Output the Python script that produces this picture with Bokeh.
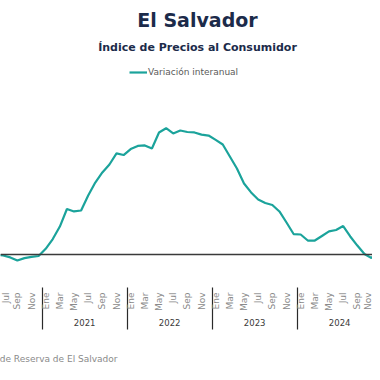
import math
from bokeh.plotting import figure
from bokeh.models import FixedTicker, LinearAxis, Span, Label, Range1d, Title
from bokeh.embed import file_html
from bokeh.resources import INLINE

# ---- data -------------------------------------------------------------
month_names = ["Ene", "Feb", "Mar", "Abr", "May", "Jun",
               "Jul", "Ago", "Sep", "Oct", "Nov", "Dic"]
year_labels = ["2020", "2021", "2022", "2023", "2024", "2025"]
base_year = 2020
start_year, start_month = 2020, 6   # first value = Jun 2020

# Variación interanual del IPC (%), mensual desde Jun 2020
variacion = [
    -0.03, -0.06, -0.18, -0.37, -0.22, -0.15, -0.09,                     # 2020 Jun-Dic
    0.35, 0.95, 1.72, 2.80, 2.65, 2.71, 3.63, 4.43, 5.05, 5.54, 6.22, 6.12,  # 2021
    6.49, 6.68, 6.71, 6.52, 7.51, 7.77, 7.45, 7.63, 7.54, 7.51, 7.38, 7.32,  # 2022
    7.05, 6.77, 6.03, 5.29, 4.37, 3.82, 3.38, 3.17, 3.05, 2.65, 1.97, 1.26,  # 2023
    1.23, 0.86, 0.86, 1.14, 1.42, 1.51, 1.75, 1.11, 0.55, 0.03, -0.22, 0.28,  # 2024
    0.50,                                                                 # 2025 Ene
]

title_text = "El Salvador"
subtitle_text = "Índice de Precios al Consumidor"
series_name = "Variación interanual"
source_text = "Fuente: Banco Central de Reserva de El Salvador"

# ---- derived positions (month index from Jan of base year) ------------
first_idx = (start_year - base_year) * 12 + (start_month - 1)
x_idx = [first_idx + k for k in range(len(variacion))]
n_months = len(year_labels) * 12

FONT = "DejaVu Sans"
TEAL = "#1ba39b"
NAVY = "#1c2b4a"

W, H = 372, 364
FRAME_H = 287
p = figure(width=W, height=H, output_backend="svg", toolbar_location=None,
           x_range=Range1d(5.62, 58.14), y_range=Range1d(-2.03, 15.63),
           y_axis_location=None, x_axis_location=None,
           min_border_left=0, min_border_right=0,
           min_border_top=0, min_border_bottom=H - FRAME_H)
p.outline_line_color = None
p.xgrid.visible = False
p.ygrid.visible = False
p.background_fill_color = "white"
p.border_fill_color = "white"

# zero line
p.add_layout(Span(location=0, dimension="width", line_color="#3a3a3a", line_width=1.4))

p.line(x_idx, variacion, line_color=TEAL, line_width=2.2, legend_label=series_name)

# month axis (year separators as long minor ticks)
month_ticks = list(range(0, n_months, 2))
year_bounds = [12 * k - 0.5 for k in range(1, len(year_labels))]
month_axis = LinearAxis(
    ticker=FixedTicker(ticks=month_ticks, minor_ticks=year_bounds),
    major_label_overrides={t: month_names[t % 12] for t in month_ticks},
    major_label_orientation=math.pi / 2,
    major_label_standoff=-37,
    major_label_text_font=FONT, major_label_text_font_size="9px",
    major_label_text_color="#8a8a8a",
    axis_line_color=None, major_tick_out=0, major_tick_in=0,
    minor_tick_out=42, minor_tick_in=0, minor_tick_line_color="#2a2a2a",
    minor_tick_line_width=1.2,
)
p.add_layout(month_axis, "below")

# year axis (blank axis label only reserves room above the source line)
year_ticks = [12 * k + 5.5 for k in range(len(year_labels))]
year_axis = LinearAxis(
    ticker=FixedTicker(ticks=year_ticks, minor_ticks=[]),
    major_label_overrides={t: year_labels[k] for k, t in enumerate(year_ticks)},
    major_label_standoff=4,
    major_label_text_font=FONT, major_label_text_font_size="8.5px",
    major_label_text_color="#3a3a3a",
    axis_line_color=None, major_tick_out=0, major_tick_in=0,
    minor_tick_out=0, minor_tick_in=0,
    axis_label=" ", axis_label_standoff=10, axis_label_text_font_size="9px",
)
p.add_layout(year_axis, "below")

# source line
p.add_layout(Title(text=source_text, align="right", offset=W - 117,
                   text_font=FONT, text_font_style="normal", text_font_size="9px",
                   text_color="#8a8a8a", standoff=0), "below")

# titles (inside the frame, which spans the whole upper area)
p.add_layout(Label(x=197, y=FRAME_H - 19.7, x_units="screen", y_units="screen",
                   text=title_text, text_align="center", text_baseline="alphabetic",
                   text_font=FONT, text_font_style="bold", text_font_size="19px",
                   text_color=NAVY))
p.add_layout(Label(x=197, y=FRAME_H - 46.5, x_units="screen", y_units="screen",
                   text=subtitle_text, text_align="center", text_baseline="alphabetic",
                   text_font=FONT, text_font_style="bold", text_font_size="11px",
                   text_color=NAVY))

leg = p.legend[0]
leg.location = (129, FRAME_H - 78)
leg.orientation = "horizontal"
leg.background_fill_alpha = 0
leg.border_line_color = None
leg.padding = 0
leg.margin = 0
leg.spacing = 0
leg.glyph_width = 18
leg.glyph_height = 12
leg.label_height = 12
leg.label_standoff = 1
leg.label_text_font = FONT
leg.label_text_font_size = "9px"
leg.label_text_color = "#5a5a5a"

open("out.html", "w").write(file_html(p, INLINE))
